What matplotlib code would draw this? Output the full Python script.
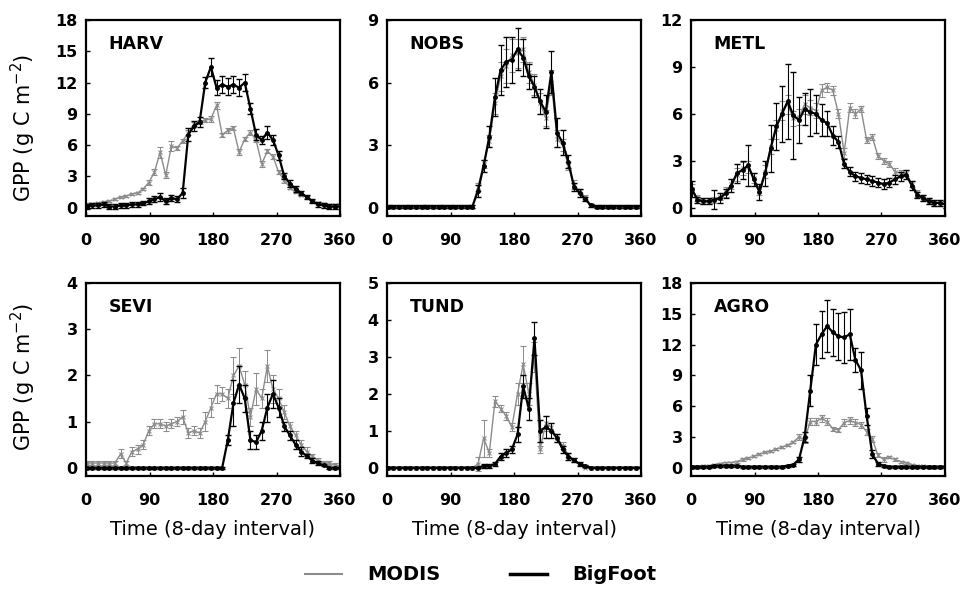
import numpy as np
import matplotlib
matplotlib.use("Agg")
import matplotlib.pyplot as plt
from matplotlib.lines import Line2D

# 8-day composites, day of year
days = np.arange(1, 362, 8)

# GPP values (g C m-2)
harv_modis = [0.3, 0.3, 0.4, 0.5, 0.6, 0.8, 1.0, 1.1, 1.3, 1.4,
              1.8, 2.4, 3.4, 5.3, 3.1, 5.9, 5.7, 6.4, 7.2, 8.0,
              8.2, 8.4, 8.5, 9.8, 7.0, 7.4, 7.6, 5.3, 6.6, 7.2,
              6.5, 4.2, 5.4, 4.9, 3.4, 2.6, 1.9, 1.5, 1.2, 1.0,
              0.6, 0.4, 0.3, 0.2, 0.2, 0.3]
harv_bigfoot = [0.1, 0.2, 0.2, 0.3, 0.1, 0.1, 0.2, 0.2, 0.3, 0.3,
                0.4, 0.6, 0.8, 1.0, 0.6, 0.9, 0.8, 1.4, 7.0, 7.8,
                8.2, 12.0, 13.5, 11.5, 11.8, 11.6, 11.8, 11.5, 12.0, 9.5,
                7.0, 6.5, 7.2, 6.5, 5.0, 3.0, 2.3, 1.8, 1.4, 1.0,
                0.6, 0.3, 0.2, 0.1, 0.1, 0.1]
harv_modis_err = [0.1, 0.1, 0.1, 0.1, 0.1, 0.1, 0.1, 0.1, 0.1, 0.1,
                  0.1, 0.2, 0.3, 0.5, 0.3, 0.5, 0.2, 0.2, 0.2, 0.2,
                  0.2, 0.2, 0.3, 0.3, 0.2, 0.2, 0.2, 0.3, 0.2, 0.2,
                  0.2, 0.3, 0.2, 0.2, 0.2, 0.2, 0.1, 0.1, 0.1, 0.1,
                  0.1, 0.1, 0.1, 0.1, 0.1, 0.1]
harv_bigfoot_err = [0.2, 0.2, 0.2, 0.2, 0.2, 0.2, 0.2, 0.2, 0.2, 0.2,
                    0.2, 0.3, 0.3, 0.4, 0.3, 0.3, 0.3, 0.5, 0.6, 0.5,
                    0.5, 0.5, 0.9, 0.7, 0.8, 0.8, 0.8, 0.8, 0.8, 0.5,
                    0.5, 0.4, 0.6, 0.5, 0.4, 0.3, 0.3, 0.3, 0.2, 0.2,
                    0.2, 0.2, 0.2, 0.2, 0.2, 0.2]

nobs_modis = [0.05, 0.05, 0.05, 0.05, 0.05, 0.05, 0.05, 0.05, 0.05, 0.05,
              0.05, 0.05, 0.05, 0.05, 0.05, 0.05, 1.0, 2.1, 3.2, 5.0,
              6.3, 6.8, 7.3, 7.4, 7.6, 6.5, 5.9, 5.0, 4.3, 6.0,
              3.3, 3.0, 2.0, 1.1, 0.8, 0.5, 0.1, 0.05, 0.05, 0.05,
              0.05, 0.05, 0.05, 0.05, 0.05, 0.05]
nobs_bigfoot = [0.05, 0.05, 0.05, 0.05, 0.05, 0.05, 0.05, 0.05, 0.05, 0.05,
                0.05, 0.05, 0.05, 0.05, 0.05, 0.05, 0.8, 2.0, 3.4, 5.3,
                6.6, 7.0, 7.1, 7.6, 7.2, 6.3, 5.8, 5.1, 4.6, 6.5,
                3.6, 3.1, 2.2, 1.0, 0.7, 0.4, 0.1, 0.05, 0.05, 0.05,
                0.05, 0.05, 0.05, 0.05, 0.05, 0.05]
nobs_modis_err = [0.05] * 16 + [0.2, 0.2, 0.3, 0.5, 0.7, 0.8, 0.8, 0.7, 0.6, 0.5,
                                0.5, 0.5, 0.4, 0.6, 0.4, 0.3, 0.2, 0.2, 0.1, 0.1] + [0.05] * 10
nobs_bigfoot_err = [0.05] * 16 + [0.3, 0.3, 0.5, 0.9, 1.2, 1.2, 1.1, 1.0, 0.9, 0.6,
                                  0.5, 0.6, 0.8, 1.0, 0.7, 0.6, 0.3, 0.2, 0.2, 0.1] + [0.05] * 10

metl_modis = [1.2, 0.6, 0.4, 0.4, 0.5, 0.7, 1.0, 1.5, 2.1, 2.5,
              2.6, 1.9, 1.1, 2.3, 3.9, 5.0, 6.2, 6.6, 5.7, 5.8,
              6.6, 6.4, 6.2, 7.5, 7.7, 7.5, 6.0, 3.5, 6.4, 6.0,
              6.3, 4.3, 4.5, 3.3, 3.0, 2.8, 2.3, 2.2, 2.2, 1.5,
              0.9, 0.6, 0.4, 0.3, 0.3, 0.2]
metl_bigfoot = [1.2, 0.5, 0.4, 0.4, 0.5, 0.6, 0.9, 1.4, 2.2, 2.4,
                2.7, 1.8, 1.0, 2.2, 3.8, 5.2, 6.0, 6.8, 5.9, 5.6,
                6.3, 6.1, 6.0, 5.6, 5.4, 4.6, 4.2, 2.8, 2.3, 2.0,
                1.9, 1.8, 1.7, 1.6, 1.5, 1.6, 1.8, 2.0, 2.1, 1.4,
                0.8, 0.6, 0.4, 0.3, 0.3, 0.2]
metl_modis_err = [0.3, 0.2, 0.2, 0.2, 0.2, 0.2, 0.3, 0.3, 0.4, 0.4,
                  0.4, 0.3, 0.3, 0.4, 0.5, 0.6, 0.6, 0.6, 0.5, 0.5,
                  0.6, 0.5, 0.5, 0.4, 0.3, 0.3, 0.3, 0.3, 0.3, 0.3,
                  0.2, 0.2, 0.2, 0.2, 0.2, 0.2, 0.2, 0.2, 0.2, 0.2,
                  0.2, 0.2, 0.2, 0.2, 0.2, 0.2]
metl_bigfoot_err = [0.5, 0.2, 0.2, 0.2, 0.6, 0.3, 0.3, 0.4, 0.6, 0.6,
                    1.3, 0.4, 0.5, 0.8, 1.5, 1.5, 1.8, 2.4, 2.8, 1.5,
                    1.0, 1.5, 1.2, 1.0, 0.8, 0.6, 0.4, 0.3, 0.3, 0.3,
                    0.3, 0.3, 0.3, 0.3, 0.3, 0.3, 0.3, 0.3, 0.3, 0.3,
                    0.2, 0.2, 0.2, 0.2, 0.2, 0.2]

sevi_modis = [0.1, 0.1, 0.1, 0.1, 0.1, 0.1, 0.3, 0.1, 0.35, 0.4,
              0.5, 0.8, 0.95, 0.95, 0.9, 0.95, 1.0, 1.1, 0.75, 0.8,
              0.75, 1.0, 1.3, 1.6, 1.6, 1.5, 2.0, 2.2, 1.8, 1.1,
              1.7, 1.5, 2.2, 1.7, 1.5, 1.2, 0.9, 0.7, 0.5, 0.35,
              0.25, 0.15, 0.1, 0.1, 0.05, 0.05]
sevi_bigfoot = [0.0, 0.0, 0.0, 0.0, 0.0, 0.0, 0.0, 0.0, 0.0, 0.0,
                0.0, 0.0, 0.0, 0.0, 0.0, 0.0, 0.0, 0.0, 0.0, 0.0,
                0.0, 0.0, 0.0, 0.0, 0.0, 0.6, 1.4, 1.8, 1.5, 0.6,
                0.55, 0.8, 1.3, 1.6, 1.3, 0.9, 0.7, 0.5, 0.35, 0.25,
                0.15, 0.1, 0.05, 0.0, 0.0, 0.0]
sevi_modis_err = [0.05, 0.05, 0.05, 0.05, 0.05, 0.05, 0.1, 0.05, 0.1, 0.1,
                  0.1, 0.1, 0.1, 0.1, 0.1, 0.1, 0.1, 0.15, 0.1, 0.1,
                  0.1, 0.2, 0.2, 0.2, 0.15, 0.2, 0.4, 0.4, 0.3, 0.2,
                  0.35, 0.2, 0.35, 0.3, 0.2, 0.15, 0.1, 0.1, 0.1, 0.1,
                  0.05, 0.05, 0.05, 0.05, 0.05, 0.05]
sevi_bigfoot_err = [0.02, 0.02, 0.02, 0.02, 0.02, 0.02, 0.02, 0.02, 0.02, 0.02,
                    0.02, 0.02, 0.02, 0.02, 0.02, 0.02, 0.02, 0.02, 0.02, 0.02,
                    0.02, 0.02, 0.02, 0.02, 0.02, 0.1, 0.5, 0.4, 0.3, 0.2,
                    0.15, 0.2, 0.3, 0.3, 0.2, 0.1, 0.1, 0.1, 0.1, 0.05,
                    0.05, 0.05, 0.02, 0.02, 0.02, 0.02]

tund_modis = [0.0, 0.0, 0.0, 0.0, 0.0, 0.0, 0.0, 0.0, 0.0, 0.0,
              0.0, 0.0, 0.0, 0.0, 0.0, 0.0, 0.1, 0.8, 0.4, 1.8,
              1.6, 1.4, 1.1, 2.0, 2.8, 2.0, 3.0, 0.5, 1.2, 1.1,
              0.8, 0.6, 0.35, 0.2, 0.1, 0.0, 0.0, 0.0, 0.0, 0.0,
              0.0, 0.0, 0.0, 0.0, 0.0, 0.0]
tund_bigfoot = [0.0, 0.0, 0.0, 0.0, 0.0, 0.0, 0.0, 0.0, 0.0, 0.0,
                0.0, 0.0, 0.0, 0.0, 0.0, 0.0, 0.0, 0.05, 0.05, 0.1,
                0.3, 0.4, 0.5, 0.9, 2.2, 1.6, 3.5, 1.0, 1.1, 1.0,
                0.8, 0.5, 0.3, 0.2, 0.1, 0.05, 0.0, 0.0, 0.0, 0.0,
                0.0, 0.0, 0.0, 0.0, 0.0, 0.0]
tund_modis_err = [0.02, 0.02, 0.02, 0.02, 0.02, 0.02, 0.02, 0.02, 0.02, 0.02,
                  0.02, 0.02, 0.02, 0.02, 0.02, 0.02, 0.2, 0.5, 0.1, 0.15,
                  0.1, 0.1, 0.1, 0.3, 0.5, 0.3, 0.4, 0.1, 0.2, 0.1,
                  0.1, 0.1, 0.05, 0.05, 0.02, 0.02, 0.02, 0.02, 0.02, 0.02,
                  0.02, 0.02, 0.02, 0.02, 0.02, 0.02]
tund_bigfoot_err = [0.02, 0.02, 0.02, 0.02, 0.02, 0.02, 0.02, 0.02, 0.02, 0.02,
                    0.02, 0.02, 0.02, 0.02, 0.02, 0.02, 0.02, 0.05, 0.05, 0.05,
                    0.1, 0.1, 0.1, 0.2, 0.3, 0.3, 0.45, 0.3, 0.3, 0.2,
                    0.1, 0.1, 0.1, 0.05, 0.05, 0.02, 0.02, 0.02, 0.02, 0.02,
                    0.02, 0.02, 0.02, 0.02, 0.02, 0.02]

agro_modis = [0.1, 0.1, 0.2, 0.2, 0.3, 0.4, 0.5, 0.5, 0.6, 0.8,
              0.9, 1.1, 1.3, 1.5, 1.6, 1.8, 2.0, 2.2, 2.5, 3.0,
              2.7, 4.5, 4.5, 4.8, 4.5, 3.8, 3.7, 4.4, 4.6, 4.4,
              4.2, 3.5, 2.8, 1.2, 0.8, 1.0, 0.8, 0.6, 0.5, 0.3,
              0.2, 0.15, 0.1, 0.1, 0.1, 0.1]
agro_bigfoot = [0.1, 0.1, 0.1, 0.1, 0.2, 0.2, 0.2, 0.2, 0.2, 0.1,
                0.1, 0.1, 0.1, 0.1, 0.1, 0.1, 0.1, 0.2, 0.3, 0.8,
                3.0, 7.5, 12.0, 13.0, 13.8, 13.2, 12.8, 12.7, 13.0, 10.5,
                9.5, 5.0, 1.3, 0.4, 0.2, 0.1, 0.1, 0.1, 0.1, 0.1,
                0.1, 0.1, 0.1, 0.1, 0.1, 0.1]
agro_modis_err = [0.1] * 19 + [0.3, 0.3, 0.3, 0.3, 0.3, 0.3, 0.2, 0.2, 0.3, 0.3, 0.3,
                               0.3, 0.3, 0.3, 0.2, 0.2] + [0.1] * 11
agro_bigfoot_err = [0.1] * 19 + [0.2, 0.5, 1.5, 2.0, 2.3, 2.5, 2.3, 2.3, 2.5, 2.5, 1.2,
                                 1.8, 0.8, 0.4, 0.2, 0.1] + [0.1] * 11

sites = ["HARV", "NOBS", "METL", "SEVI", "TUND", "AGRO"]
modis = [harv_modis, nobs_modis, metl_modis, sevi_modis, tund_modis, agro_modis]
bigfoot = [harv_bigfoot, nobs_bigfoot, metl_bigfoot, sevi_bigfoot, tund_bigfoot, agro_bigfoot]
modis_err = [harv_modis_err, nobs_modis_err, metl_modis_err, sevi_modis_err, tund_modis_err, agro_modis_err]
bigfoot_err = [harv_bigfoot_err, nobs_bigfoot_err, metl_bigfoot_err, sevi_bigfoot_err, tund_bigfoot_err, agro_bigfoot_err]
y_max = [18, 9, 12, 4, 5, 18]
y_step = [3, 3, 3, 1, 1, 3]
x_ticks = [0, 90, 180, 270, 360]

fig = plt.figure(figsize=(9.61, 5.96), dpi=100)

# axes boxes in pixels: left, top, right, bottom
lefts = [86, 387, 691]
width = 254
rows = [(20, 216), (283, 476)]

gray = "#8c8c8c"
for k, site in enumerate(sites):
    r, c = divmod(k, 3)
    top, bot = rows[r]
    ax = fig.add_axes([lefts[c] / 961, 1 - bot / 596, width / 961, (bot - top) / 596])

    ax.errorbar(days, modis[k], yerr=modis_err[k], color=gray, lw=1.0,
                marker="x", ms=3, mew=0.8, elinewidth=0.7, capsize=2.5, zorder=2)
    ax.errorbar(days, bigfoot[k], yerr=bigfoot_err[k], color="black", lw=1.6,
                marker="o", ms=2.5, elinewidth=0.8, capsize=2.5, zorder=3)

    ax.set_xlim(0, 360)
    ax.set_ylim(-0.045 * y_max[k], y_max[k])
    ax.set_xticks(x_ticks)
    ax.set_yticks(np.arange(0, y_max[k] + 0.1, y_step[k]))
    ax.tick_params(direction="in", length=3, width=1, labelsize=11.5, pad=6)
    ax.tick_params(axis="x", pad=12)
    for lab in ax.get_xticklabels() + ax.get_yticklabels():
        lab.set_fontweight("bold")
    for sp in ax.spines.values():
        sp.set_linewidth(1.6)

    ax.text(0.09, 0.85, site, transform=ax.transAxes, fontsize=12.5, fontweight="semibold")

    if r == 1:
        ax.set_xlabel("Time (8-day interval)", fontsize=14, labelpad=9)

fig.text(0.024, 0.785, "GPP (g C m$^{-2}$)", rotation=90, fontsize=15, ha="center", va="center")
fig.text(0.024, 0.368, "GPP (g C m$^{-2}$)", rotation=90, fontsize=15, ha="center", va="center")

handles = [Line2D([], [], color=gray, lw=1.5), Line2D([], [], color="black", lw=2.5)]
fig.legend(handles, ["MODIS", "BigFoot"], loc="lower center", bbox_to_anchor=(0.5, -0.01),
           ncol=2, frameon=False, handlelength=1.9, columnspacing=3.6, handletextpad=1.3,
           prop={"size": 14, "weight": "semibold"})

fig.savefig("out.png", dpi=100)
